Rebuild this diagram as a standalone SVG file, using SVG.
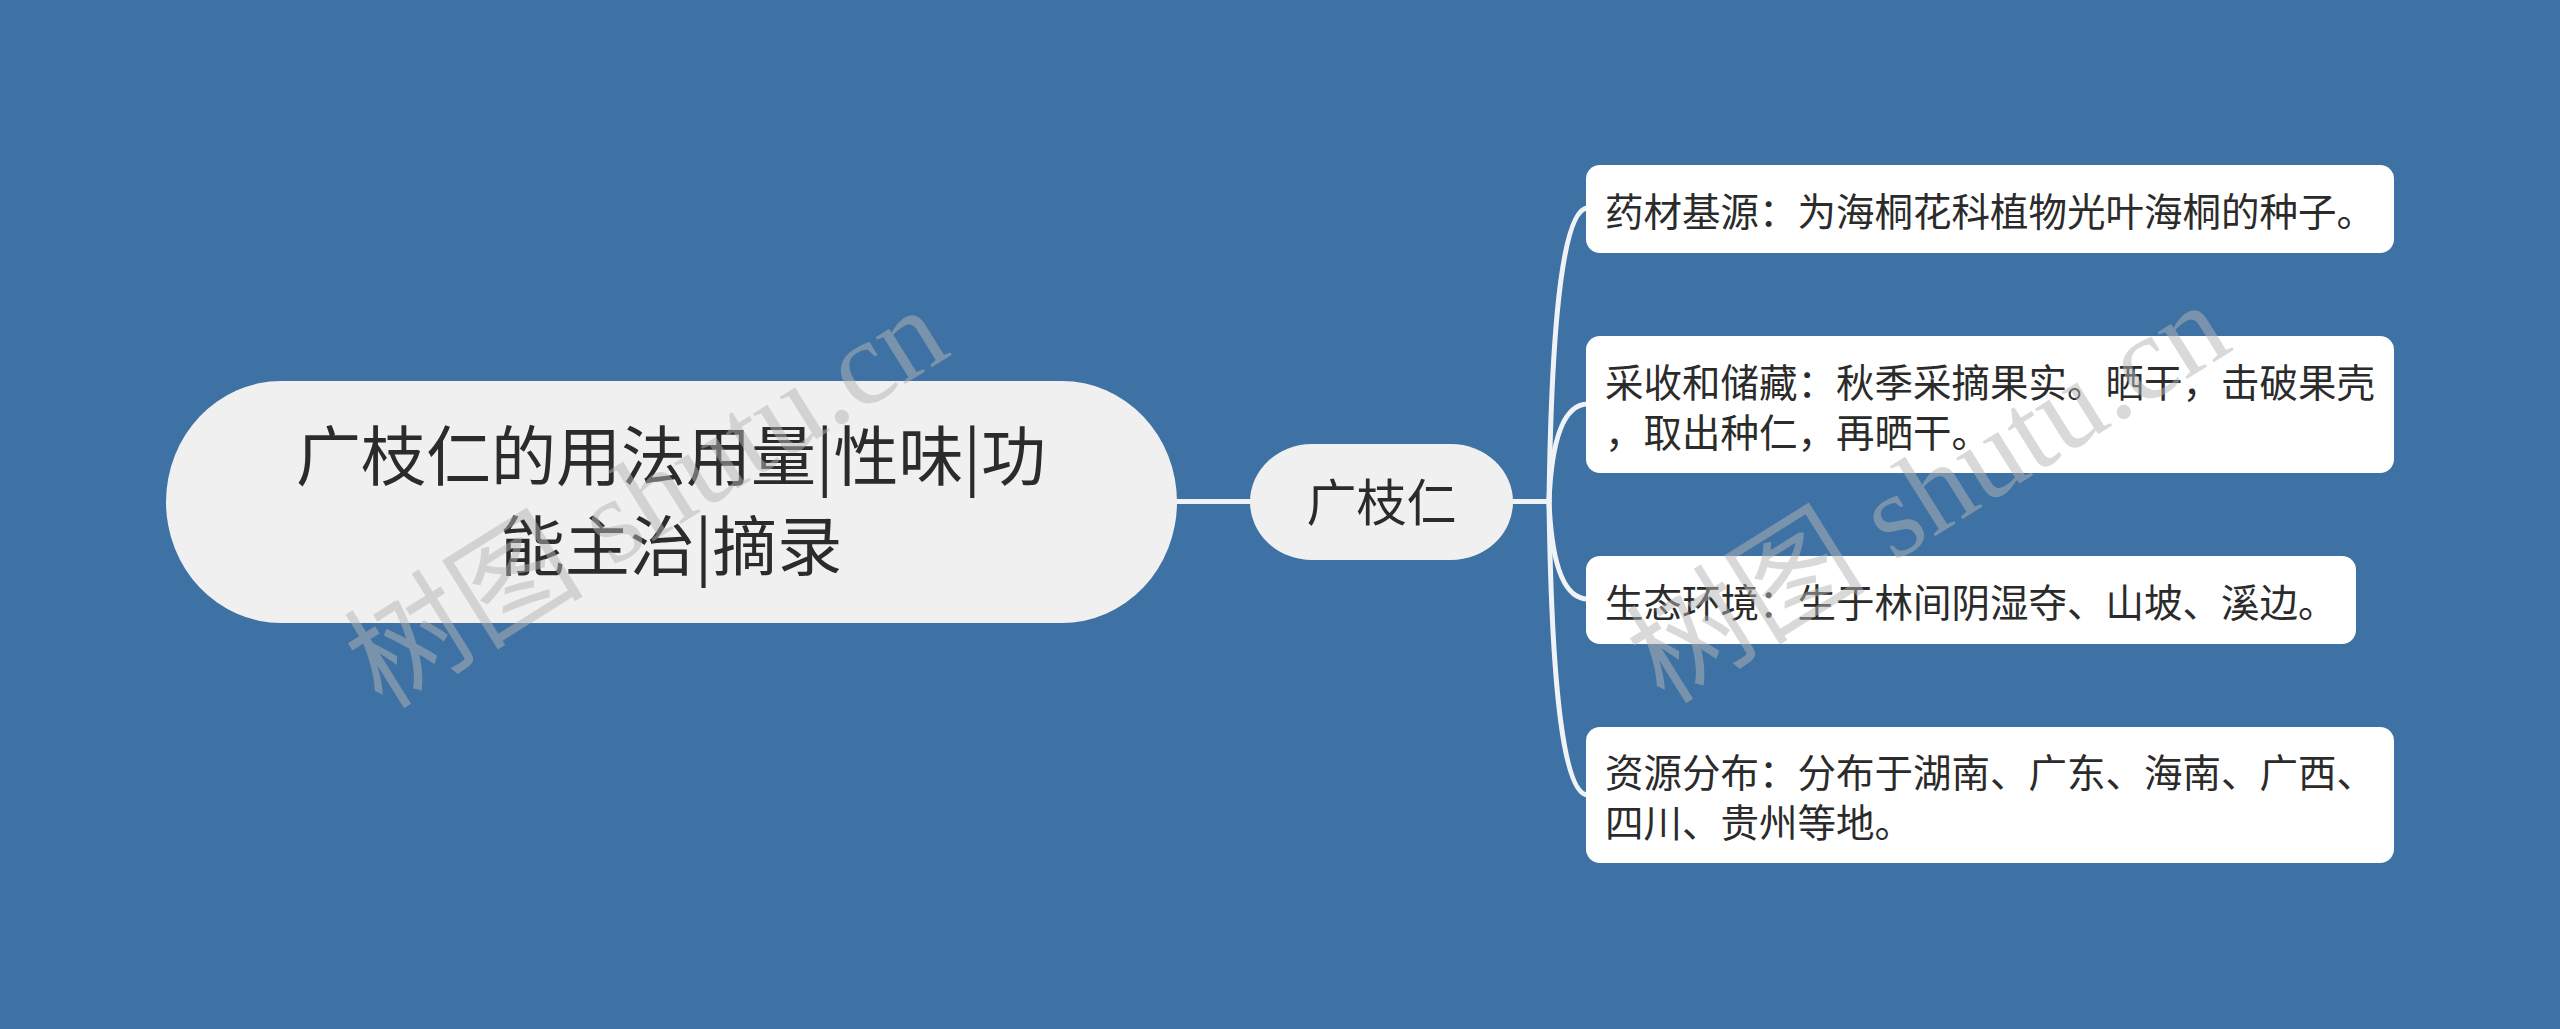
<svg xmlns="http://www.w3.org/2000/svg" width="2560" height="1029" viewBox="0 0 2560 1029">
  <style>
    .bg { fill: #3E72A5; }
    .pill { fill: #F0F0F0; }
    .leaf { fill: #FFFFFF; }
    .link { fill: none; stroke: #F0F3F6; stroke-width: 5; stroke-linecap: round; }
    .t { font-family: "Noto Sans CJK SC", "Noto Sans", sans-serif; fill: #2B2B2B; }
    .root-t { font-size: 65px; text-anchor: middle; }
    .main-t { font-size: 50px; text-anchor: middle; }
    .leaf-t { font-size: 38.5px; }
    .wm { font-family: "Liberation Serif", "Noto Sans CJK SC", serif; font-size: 120px; fill: #B4B4B4; fill-opacity: 0.5; text-anchor: middle; }
  </style>
  <rect class="bg" x="0" y="0" width="2560" height="1029"/>

  <g id="connectors">
    <line class="link" x1="1177" y1="501.5" x2="1252" y2="501.5"/>
    <line class="link" x1="1512" y1="501.5" x2="1549" y2="501.5"/>
    <path class="link" d="M1549,501.5 Q1553,208 1588,208"/>
    <path class="link" d="M1549,501.5 Q1553,404 1588,404"/>
    <path class="link" d="M1549,501.5 Q1553,599 1588,599"/>
    <path class="link" d="M1549,501.5 Q1553,795 1588,795"/>
  </g>

  <g id="root">
    <rect class="pill" x="166" y="381" width="1011" height="242" rx="115" ry="121"/>
    <text class="t root-t" x="671" y="480">广枝仁的用法用量|性味|功</text>
    <text class="t root-t" x="671" y="570">能主治|摘录</text>
  </g>

  <g id="main">
    <rect class="pill" x="1250" y="444" width="263" height="116" rx="62" ry="58"/>
    <text class="t main-t" x="1381.5" y="521">广枝仁</text>
  </g>

  <g id="leaf1">
    <rect class="leaf" x="1586" y="165" width="808" height="88" rx="14"/>
    <text class="t leaf-t" x="1605" y="226">药材基源：为海桐花科植物光叶海桐的种子。</text>
  </g>

  <g id="leaf2">
    <rect class="leaf" x="1586" y="336" width="808" height="137" rx="14"/>
    <text class="t leaf-t" x="1605" y="397">采收和储藏：秋季采摘果实。晒干，击破果壳</text>
    <text class="t leaf-t" x="1605" y="447">，取出种仁，再晒干。</text>
  </g>

  <g id="leaf3">
    <rect class="leaf" x="1586" y="556" width="770" height="88" rx="14"/>
    <text class="t leaf-t" x="1605" y="617">生态环境：生于林间阴湿夺、山坡、溪边。</text>
  </g>

  <g id="leaf4">
    <rect class="leaf" x="1586" y="727" width="808" height="136" rx="14"/>
    <text class="t leaf-t" x="1605" y="787">资源分布：分布于湖南、广东、海南、广西、</text>
    <text class="t leaf-t" x="1605" y="837">四川、贵州等地。</text>
  </g>

  <g id="watermark">
    <text class="wm" transform="translate(668,532) rotate(-32)">树图 shutu.cn</text>
    <text class="wm" transform="translate(1950,527) rotate(-32)">树图 shutu.cn</text>
  </g>
</svg>
